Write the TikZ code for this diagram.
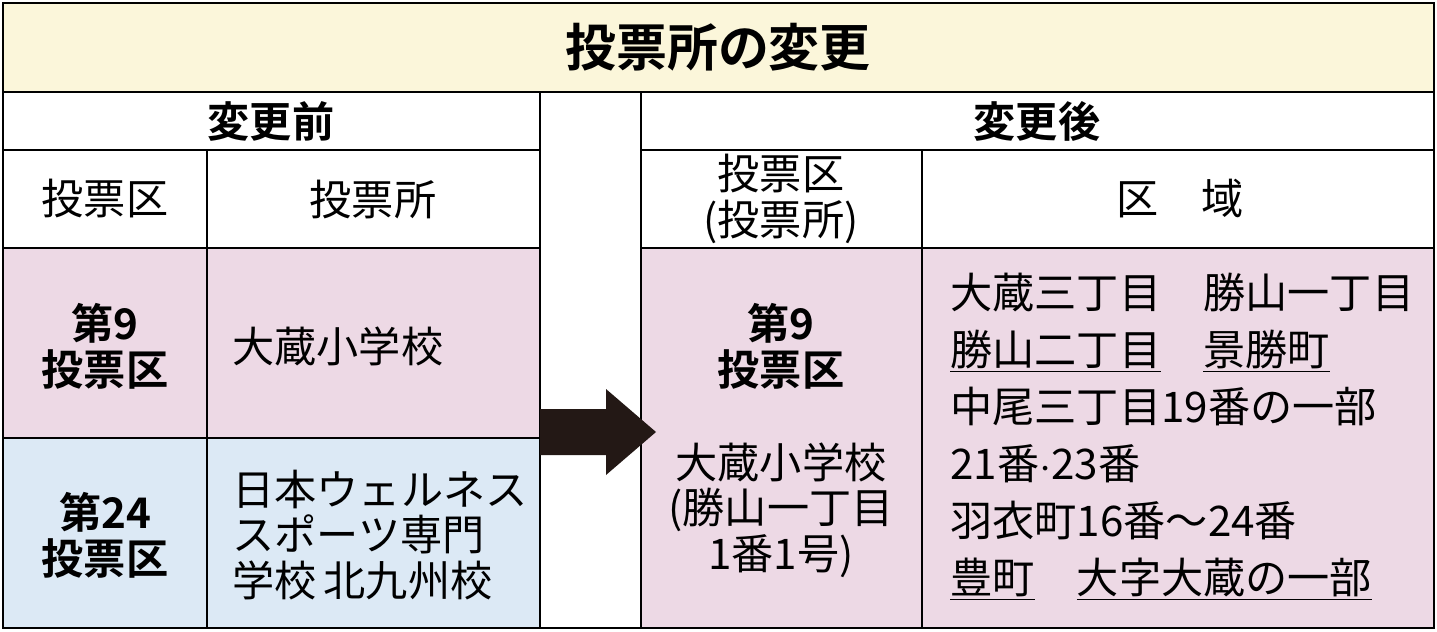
\documentclass[tikz,border=0pt]{standalone}
\usepackage{fontspec}
\setmainfont{Noto Sans CJK JP}
\newfontfamily\jpb{Noto Sans CJK JP Bold}
\usetikzlibrary{positioning}
\definecolor{hdyellow}{HTML}{FBF6DA}
\definecolor{rowpink}{HTML}{EDD9E5}
\definecolor{rowblue}{HTML}{DCE9F5}
\definecolor{arrowblk}{HTML}{231815}
\tikzset{
  cell/.style={draw=black, line width=1.2pt},
  txt/.style={font=\fontsize{24}{26}\selectfont, align=center, inner sep=0pt},
  btxt/.style={font=\jpb\fontsize{24}{26}\selectfont, align=center, inner sep=0pt},
  ltxt/.style={font=\fontsize{24}{32.4}\selectfont, align=left, anchor=north west, inner sep=0pt},
}
\begin{document}
\begin{tikzpicture}[x=0.02cm,y=-0.02cm]
    \useasboundingbox (0,0) rectangle (1437,632);
    % title
    \fill[hdyellow] (3,3) rectangle (1434,92);
    % left table
    \fill[rowpink] (3,248) rectangle (540,438);
    \fill[rowblue] (3,438) rectangle (540,628);
    \draw[cell] (3,92) rectangle (540,628);
    \draw[cell] (3,150) -- (540,150);
    \draw[cell] (3,248) -- (540,248);
    \draw[cell] (3,438) -- (540,438);
    \draw[cell] (207,150) -- (207,628);
    % right table
    \fill[rowpink] (641,248) rectangle (1434,628);
    \draw[cell] (641,92) rectangle (1434,628);
    \draw[cell] (641,150) -- (1434,150);
    \draw[cell] (641,248) -- (1434,248);
    \draw[cell] (922,150) -- (922,628);
    \draw[cell] (3,3) rectangle (1434,628);
    \draw[cell] (3,92) -- (1434,92);

    % arrow
    \fill[arrowblk] (540,409) -- (606,409) -- (606,389) -- (656,432)
        -- (606,475) -- (606,455) -- (540,455) -- cycle;

    \node[btxt, font=\jpb\fontsize{29}{32}\selectfont] (title) at (718,47) {投票所の変更};
    \node[btxt] (before) at (271,121) {変更前};
    \node[btxt] (after) at (1037,121) {変更後};
    \node[txt] (hdist) at (105,199) {投票区};
    \node[txt] (hplace) at (373,199) {投票所};
    \node[txt] (hdist2) at (781,199) {投票区\\(投票所)};
    \node[txt] (harea) at (1180,199) {区\quad 域};

    \node[btxt] (d9) at (105,346) {第9\\投票区};
    \node[txt, anchor=west] (p9) at (232,346) {大蔵小学校};
    \node[btxt] (d24) at (105,535) {第24\\投票区};
    \node[txt, anchor=west, align=left] (p24) at (232,535) {日本ウェルネス\\スポーツ専門\\学校\,北九州校};

    \node[btxt] (n9) at (781,346) {第9\\投票区};
    \node[txt] (n9p) at (781,510) {大蔵小学校\\(勝山一丁目\\1番1号)};

    \node[ltxt] (area) at (950,273) {大蔵三丁目\quad 勝山一丁目\\
        \underline{勝山二丁目}\quad \underline{景勝町}\\
        中尾三丁目19番の一部\\
        21番$\cdot$23番\\
        羽衣町16番～24番\\
        \underline{豊町}\quad \underline{大字大蔵の一部}};
\end{tikzpicture}
\end{document}
